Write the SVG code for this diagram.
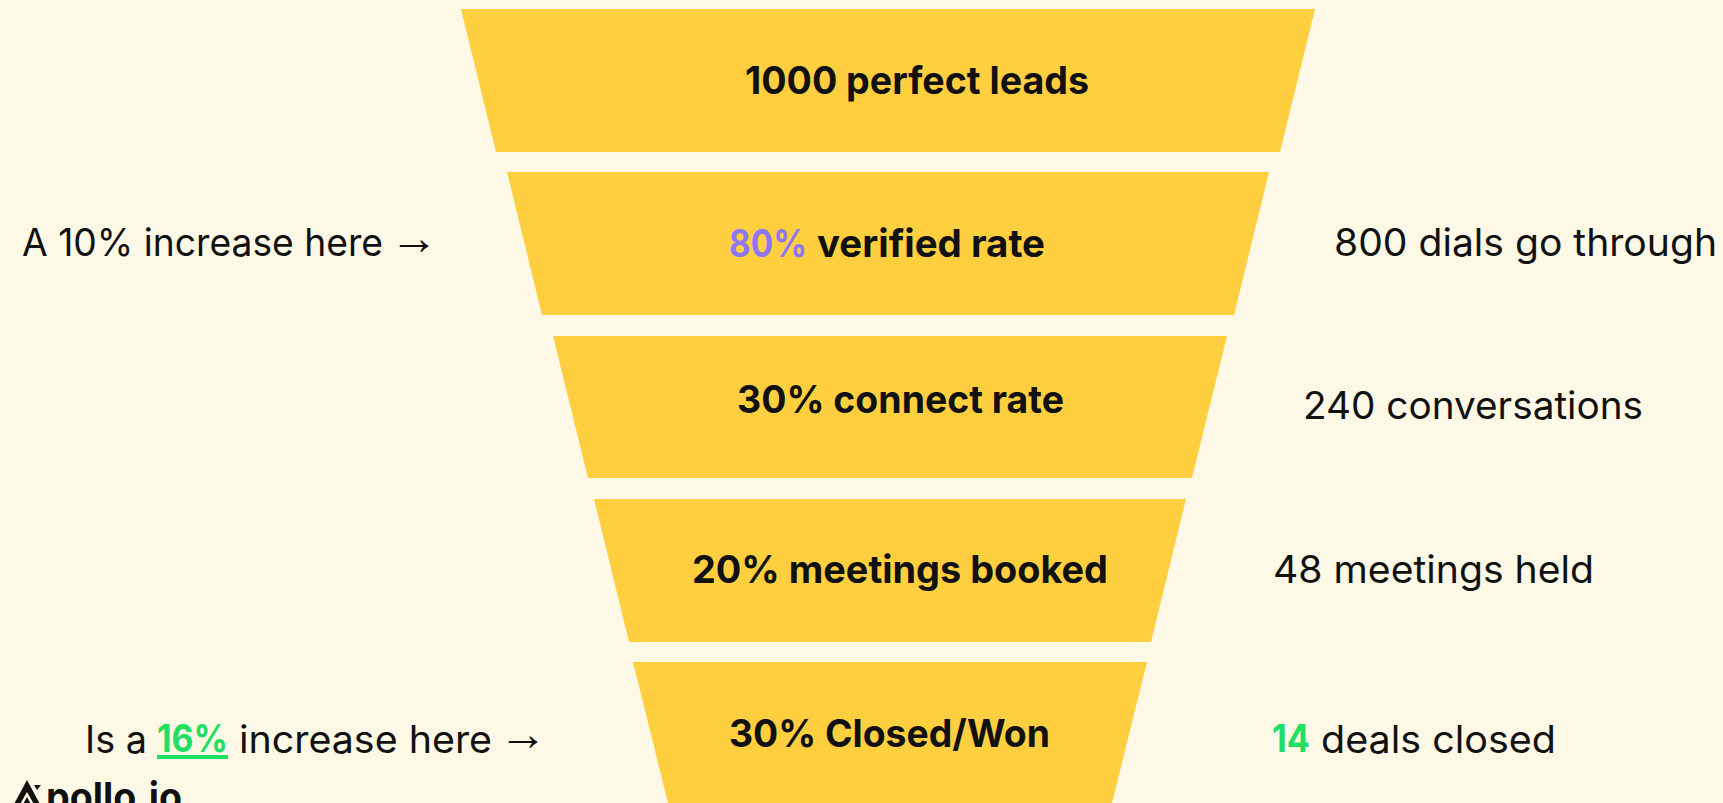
<svg xmlns="http://www.w3.org/2000/svg" width="1723" height="803" viewBox="0 0 1723 803">
<style>
.stage{fill:#ffcf40}
text{font-family:"Inter","Liberation Sans",sans-serif;font-size:38px;fill:#111111}
.b{font-weight:700}
.r{font-weight:400}
.a{font-family:"Liberation Sans",sans-serif;font-size:48px}
</style>
<rect width="1723" height="803" fill="#fef8e6"/>
<g id="stage-1"><polygon class="stage" points="461,9 1315,9 1280,152 496,152"/><text class="b" x="745" y="94" textLength="344" lengthAdjust="spacingAndGlyphs">1000 perfect leads</text></g>
<g id="stage-2"><polygon class="stage" points="507,172 1269,172 1234,315 542,315"/><text class="b" x="729" y="257" textLength="78" lengthAdjust="spacingAndGlyphs" style="fill:#8f76f5">80%</text><text class="b" x="817" y="257" textLength="228" lengthAdjust="spacingAndGlyphs">verified rate</text></g>
<g id="stage-3"><polygon class="stage" points="553,336 1227,336 1192,478 588,478"/><text class="b" x="737" y="413" textLength="327" lengthAdjust="spacingAndGlyphs">30% connect rate</text></g>
<g id="stage-4"><polygon class="stage" points="594,499 1186,499 1151,642 629,642"/><text class="b" x="692" y="583" textLength="416" lengthAdjust="spacingAndGlyphs">20% meetings booked</text></g>
<g id="stage-5"><polygon class="stage" points="633,662 1147,662 1112,803 668,803"/><text class="b" x="729" y="747" textLength="321" lengthAdjust="spacingAndGlyphs">30% Closed/Won</text></g>
<g id="left-notes">
<text class="r" y="256"><tspan x="22" textLength="361" lengthAdjust="spacingAndGlyphs">A 10% increase here</tspan> <tspan class="a" x="390" y="254">→</tspan></text>
<text class="r" x="85" y="753" textLength="62" lengthAdjust="spacingAndGlyphs">Is a</text>
<text class="b" x="157" y="752" textLength="71" lengthAdjust="spacingAndGlyphs" style="fill:#1fdf64">16%</text>
<rect x="157" y="755" width="71" height="4" fill="#1fdf64"/>
<text class="r" y="753"><tspan x="239" textLength="253" lengthAdjust="spacingAndGlyphs">increase here</tspan> <tspan class="a" x="499" y="750">→</tspan></text>
</g>
<g id="right-notes">
<text class="r" x="1334" y="256" textLength="383" lengthAdjust="spacingAndGlyphs">800 dials go through</text>
<text class="r" x="1303" y="419" textLength="340" lengthAdjust="spacingAndGlyphs">240 conversations</text>
<text class="r" x="1273" y="583" textLength="321" lengthAdjust="spacingAndGlyphs">48 meetings held</text>
<text class="b" x="1272" y="752" textLength="38" lengthAdjust="spacingAndGlyphs" style="fill:#1fdf64">14</text>
<text class="r" x="1321" y="753" textLength="235" lengthAdjust="spacingAndGlyphs">deals closed</text>
</g>
<g id="logo">
<path d="M27,780 L13,806 L19,806 L27,792 L35,806 L41,806 Z" fill="#111111"/>
<path d="M27,797 L22,806 L32,806 Z" fill="#111111"/>
<path d="M34,785 L41,785 L37,790 Z" fill="#111111"/>
<text class="b" x="46" y="811" textLength="136" lengthAdjust="spacingAndGlyphs" style="font-size:40px">pollo.io</text>
</g>
</svg>
